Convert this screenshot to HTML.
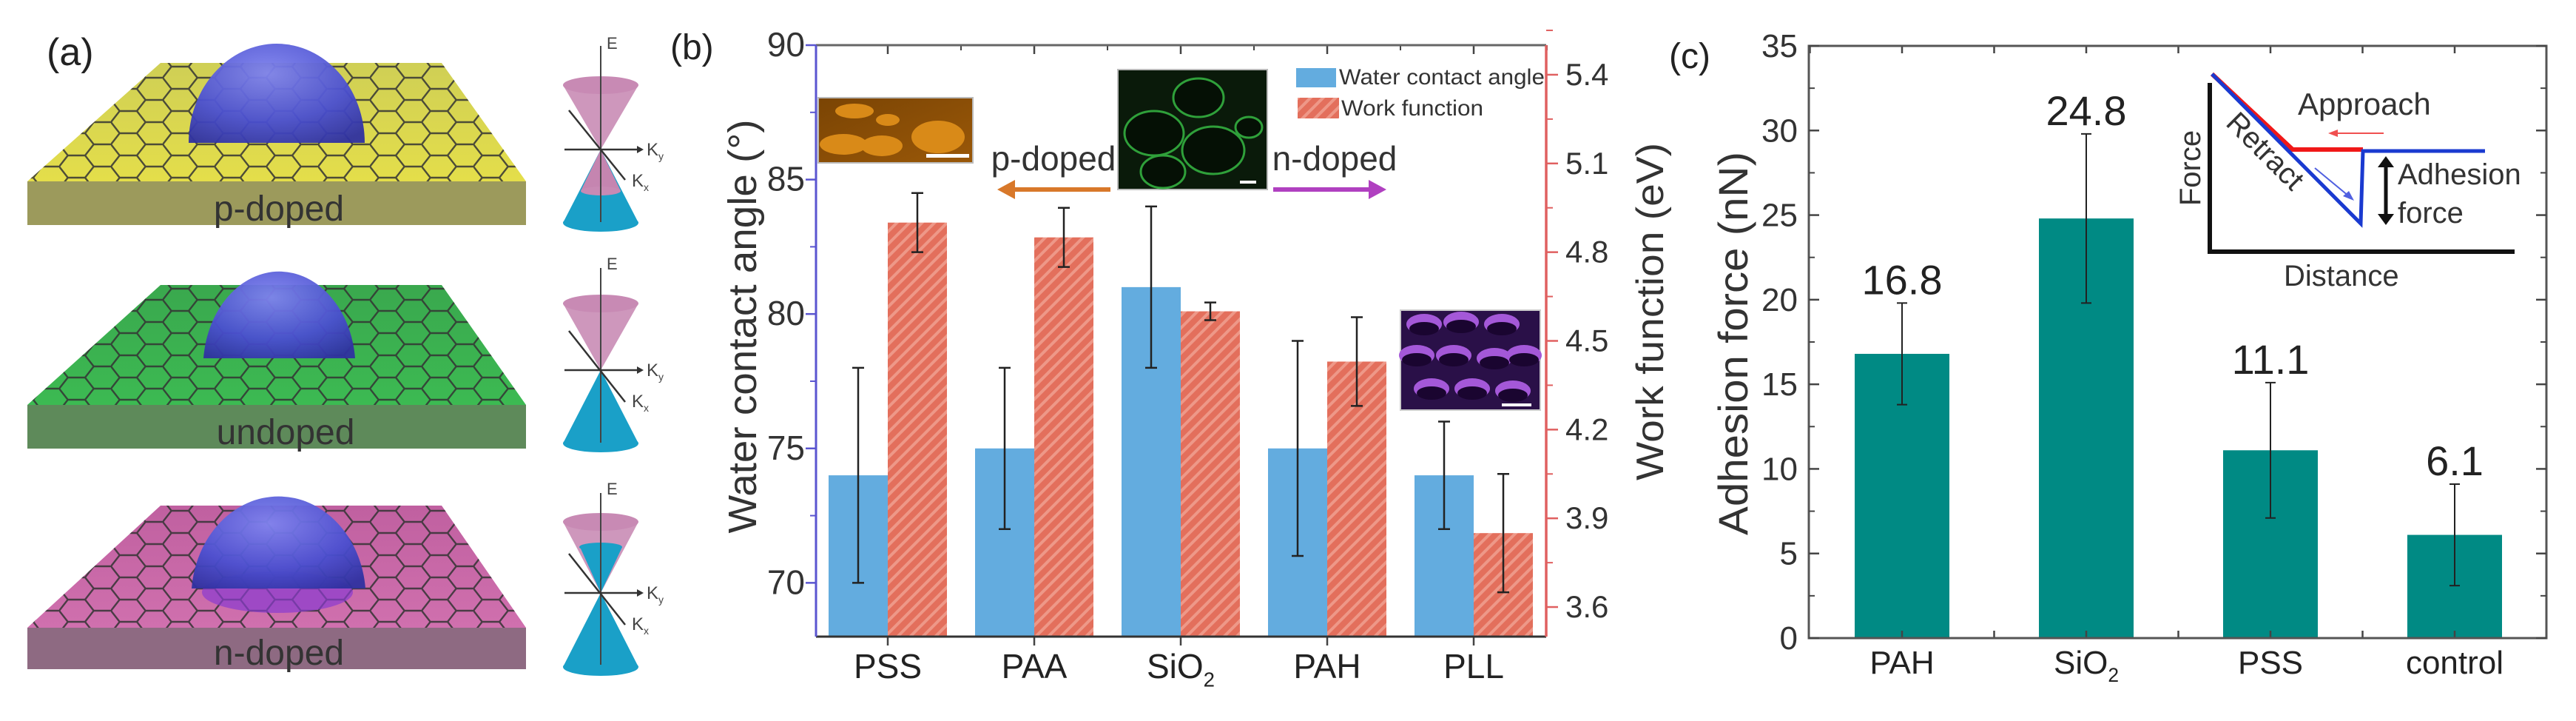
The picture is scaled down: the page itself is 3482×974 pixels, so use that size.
<!DOCTYPE html>
<html><head><meta charset="utf-8">
<style>
html,body{margin:0;padding:0;background:#fff;overflow:hidden;}
svg{display:block;font-family:"Liberation Sans",Arial,sans-serif;}
</style></head>
<body>
<svg id="fig" width="3482" height="974" viewBox="0 0 3482 974" xmlns="http://www.w3.org/2000/svg">
<defs>
  <pattern id="hex" width="70" height="30" patternUnits="userSpaceOnUse" patternTransform="translate(10,0)">
    <path d="M0,15 L11.7,0 L35,0 L46.7,15 L35,30 L11.7,30 Z M46.7,15 L70,15" fill="none" stroke="#333" stroke-width="2.4"/>
  </pattern>
  <pattern id="hatch" width="12" height="12" patternUnits="userSpaceOnUse" patternTransform="rotate(45)">
    <rect width="12" height="12" fill="#e36f5c"/>
    <rect width="4" height="12" fill="#ee9888"/>
  </pattern>
  <radialGradient id="dome" cx="0.45" cy="0.3" r="0.8">
    <stop offset="0" stop-color="#7f83ee"/><stop offset="0.6" stop-color="#4a4fd0"/><stop offset="1" stop-color="#2f31a0"/>
  </radialGradient>
  <linearGradient id="yel" x1="0" y1="0" x2="0" y2="1"><stop offset="0" stop-color="#cfcf55"/><stop offset="1" stop-color="#e4de4a"/></linearGradient>
  <linearGradient id="grn" x1="0" y1="0" x2="0" y2="1"><stop offset="0" stop-color="#3aa84e"/><stop offset="1" stop-color="#3cba52"/></linearGradient>
  <linearGradient id="pnk" x1="0" y1="0" x2="0" y2="1"><stop offset="0" stop-color="#c060a0"/><stop offset="1" stop-color="#d070ae"/></linearGradient>
  <linearGradient id="orgimg" x1="0" y1="0" x2="1" y2="1"><stop offset="0" stop-color="#7a4404"/><stop offset="1" stop-color="#9a5808"/></linearGradient>
</defs>

<g>
  <text x="63" y="88" font-size="52" fill="#222">(a)</text>

  <g>
    <polygon points="37,245 711,245 711,304 37,304" fill="#9c9a5c"/>
    <polygon points="217,85 597,85 711,245 37,245" fill="url(#yel)"/>
    <polygon points="217,85 597,85 711,245 37,245" fill="url(#hex)" opacity="0.85"/>
    <path d="M255,193 A119,134 0 0 1 493,193 Z" fill="url(#dome)" opacity="0.95"/>
    <text x="377" y="298" font-size="48" text-anchor="middle" fill="#333">p-doped</text>
  </g>
  <g>
    <polygon points="37,547 711,547 711,606 37,606" fill="#5e8a5a"/>
    <polygon points="217,385 597,385 711,547 37,547" fill="url(#grn)"/>
    <polygon points="217,385 597,385 711,547 37,547" fill="url(#hex)" opacity="0.85"/>
    <path d="M275,484 A103,130 0 0 1 480,484 Z" fill="url(#dome)" opacity="0.95"/>
    <text x="386" y="600" font-size="48" text-anchor="middle" fill="#333">undoped</text>
  </g>
  <g>
    <polygon points="37,848 711,848 711,904 37,904" fill="#8e6a82"/>
    <polygon points="217,683 597,683 711,848 37,848" fill="url(#pnk)"/>
    <polygon points="217,683 597,683 711,848 37,848" fill="url(#hex)" opacity="0.85"/>
    <ellipse cx="375" cy="800" rx="102" ry="28" fill="#8a3ad0" opacity="0.7"/>
    <path d="M259,795 A118,137 0 0 1 494,795 Z" fill="url(#dome)" opacity="0.95"/>
    <text x="377" y="898" font-size="48" text-anchor="middle" fill="#333">n-doped</text>
  </g>

  <g>
    <polygon points="761,115 863,115 812,202" fill="#c585b0" opacity="0.85"/>
    <ellipse cx="812" cy="115" rx="51" ry="12" fill="#c88ab4"/>
    <polygon points="812,202 761,301 863,301" fill="#1aa0c8"/>
    <ellipse cx="812" cy="301" rx="51" ry="12" fill="#1aa0c8"/>
    <polygon points="812,202 785,258 839,258" fill="#c585b0"/>
    <ellipse cx="812" cy="258" rx="27" ry="6" fill="#c88ab4"/>
    <line x1="812" y1="62" x2="812" y2="300" stroke="#444" stroke-width="2"/>
    <line x1="763" y1="202" x2="861" y2="202" stroke="#333" stroke-width="2.5"/>
    <polygon points="861,197 870,202 861,207" fill="#333"/>
    <line x1="769" y1="149" x2="845" y2="243" stroke="#333" stroke-width="2.5"/>
    <text x="820" y="66" font-size="22" fill="#444">E</text>
    <text x="874" y="210" font-size="24" fill="#444">K<tspan font-size="14" dy="6">y</tspan></text>
    <text x="854" y="252" font-size="24" fill="#444">K<tspan font-size="14" dy="6">x</tspan></text>
  </g>
  <g>
    <polygon points="761,410 863,410 812,500" fill="#c585b0" opacity="0.85"/>
    <ellipse cx="812" cy="410" rx="51" ry="12" fill="#c88ab4"/>
    <polygon points="812,500 761,599 863,599" fill="#1aa0c8"/>
    <ellipse cx="812" cy="599" rx="51" ry="12" fill="#1aa0c8"/>
    <line x1="812" y1="362" x2="812" y2="598" stroke="#444" stroke-width="2"/>
    <line x1="763" y1="500" x2="861" y2="500" stroke="#333" stroke-width="2.5"/>
    <polygon points="861,495 870,500 861,505" fill="#333"/>
    <line x1="769" y1="447" x2="845" y2="543" stroke="#333" stroke-width="2.5"/>
    <text x="820" y="364" font-size="22" fill="#444">E</text>
    <text x="874" y="508" font-size="24" fill="#444">K<tspan font-size="14" dy="6">y</tspan></text>
    <text x="854" y="550" font-size="24" fill="#444">K<tspan font-size="14" dy="6">x</tspan></text>
  </g>
  <g>
    <polygon points="761,705 863,705 812,801" fill="#c585b0" opacity="0.85"/>
    <ellipse cx="812" cy="705" rx="51" ry="12" fill="#c88ab4"/>
    <polygon points="812,801 784,739 841,739" fill="#1aa0c8"/>
    <ellipse cx="812" cy="739" rx="29" ry="6" fill="#1aa0c8"/>
    <polygon points="812,801 761,901 863,901" fill="#1aa0c8"/>
    <ellipse cx="812" cy="901" rx="51" ry="12" fill="#1aa0c8"/>
    <line x1="812" y1="666" x2="812" y2="898" stroke="#444" stroke-width="2"/>
    <line x1="763" y1="801" x2="861" y2="801" stroke="#333" stroke-width="2.5"/>
    <polygon points="861,796 870,801 861,806" fill="#333"/>
    <line x1="769" y1="748" x2="845" y2="844" stroke="#333" stroke-width="2.5"/>
    <text x="820" y="668" font-size="22" fill="#444">E</text>
    <text x="874" y="809" font-size="24" fill="#444">K<tspan font-size="14" dy="6">y</tspan></text>
    <text x="854" y="851" font-size="24" fill="#444">K<tspan font-size="14" dy="6">x</tspan></text>
  </g>
</g>

<g id="panelB">
  <text x="906" y="80" font-size="48" fill="#222">(b)</text>
</g>

<g id="panelC">
  <text x="2256" y="92" font-size="48" fill="#222">(c)</text>
</g>
</svg>

<script>
// ---------- Panel B data ----------
var bCategories = ["PSS", "PAA", "SiO2", "PAH", "PLL"];
var bAngle = [74, 75, 81, 75, 74];
var bAngleErr = [4, 3, 3, 4, 2];
var bWork = [4.9, 4.85, 4.6, 4.43, 3.85];
var bWorkErr = [0.1, 0.1, 0.03, 0.15, 0.2];
var bLeftTicks = [70, 75, 80, 85, 90];
var bRightTicks = ["3.6", "3.9", "4.2", "4.5", "4.8", "5.1", "5.4"];

// ---------- Panel C data ----------
var cCategories = ["PAH", "SiO2", "PSS", "control"];
var cForce = [16.8, 24.8, 11.1, 6.1];
var cForceErr = [3, 5, 4, 3];
var cForceLabels = ["16.8", "24.8", "11.1", "6.1"];
var cTicks = [0, 5, 10, 15, 20, 25, 30, 35];

var NS = "http://www.w3.org/2000/svg";
function mk(parent, tag, attrs, text) {
  var e = document.createElementNS(NS, tag);
  for (var k in attrs) e.setAttribute(k, attrs[k]);
  if (text !== undefined) e.textContent = text;
  parent.appendChild(e);
  return e;
}
function catLabel(parent, x, y, name, fs) {
  var t = mk(parent, "text", {x: x, y: y, "font-size": fs, "text-anchor": "middle", fill: "#222"});
  
  
  if (name === "SiO2") {
    var a = document.createElementNS(NS, "tspan"); a.textContent = "SiO"; t.appendChild(a);
    var b = document.createElementNS(NS, "tspan"); b.textContent = "2";
    b.setAttribute("font-size", fs * 0.6); b.setAttribute("dy", fs * 0.25); t.appendChild(b);
  } else t.textContent = name;
  return t;
}

// ===== Panel B =====
(function () {
  var g = document.getElementById("panelB");
  var L = 1103, R = 2090, T = 61, B = 860;
  function yL(v) { return B - (v - 68) / 22 * (B - T); }
  function yR(v) { return B - (v - 3.5) / 2 * (B - T); }
  function xC(i) { return 1200 + 198 * i; }
  var bw = 80;

  var ins = mk(g, "g", {});
  
  
  mk(ins, "rect", {x: 1106, y: 132, width: 209, height: 88, fill: "url(#orgimg)", stroke: "#bbb", "stroke-width": 2});
  [[1155,150,26,10],[1200,162,16,8],[1140,195,32,14],[1192,197,28,14],[1268,185,36,22]].forEach(function (c) {
    mk(ins, "ellipse", {cx: c[0], cy: c[1], rx: c[2], ry: c[3], fill: "#d98a18"});
  });
  mk(ins, "rect", {x: 1252, y: 208, width: 58, height: 5, fill: "#fff"});
  mk(ins, "rect", {x: 1511, y: 94, width: 202, height: 162, fill: "#0a1a0a", stroke: "#bbb", "stroke-width": 2});
  [[1620,132,34,26],[1560,180,40,30],[1640,203,42,32],[1688,172,18,14],[1572,232,30,22]].forEach(function (c) {
    mk(ins, "ellipse", {cx: c[0], cy: c[1], rx: c[2], ry: c[3], fill: "#051005", stroke: "#2fa03a", "stroke-width": 3});
  });
  mk(ins, "rect", {x: 1676, y: 244, width: 22, height: 4, fill: "#fff"});
  mk(ins, "rect", {x: 1893, y: 419, width: 189, height: 135, fill: "#2a1048", stroke: "#ccc", "stroke-width": 2});
  [[1925,438],[1975,435],[2030,438],[1915,480],[1965,480],[2020,484],[2060,480],[1935,525],[1990,525],[2045,528]].forEach(function (c) {
    mk(ins, "ellipse", {cx: c[0], cy: c[1], rx: 24, ry: 14, fill: "#a458d8"});
    mk(ins, "ellipse", {cx: c[0], cy: c[1] + 6, rx: 20, ry: 9, fill: "#1a0530"});
  });
  mk(ins, "rect", {x: 2030, y: 545, width: 40, height: 4, fill: "#fff"});

  mk(g, "text", {x: 1424, y: 230, "font-size": 46, "text-anchor": "middle", fill: "#333"}, "p-doped");
  mk(g, "text", {x: 1804, y: 230, "font-size": 46, "text-anchor": "middle", fill: "#333"}, "n-doped");
  mk(g, "line", {x1: 1501, y1: 256, x2: 1365, y2: 256, stroke: "#d8782a", "stroke-width": 6});
  mk(g, "polygon", {points: "1348,256 1372,243 1372,269", fill: "#d8782a"});
  mk(g, "line", {x1: 1721, y1: 256, x2: 1857, y2: 256, stroke: "#b040c0", "stroke-width": 6});
  mk(g, "polygon", {points: "1874,256 1850,243 1850,269", fill: "#b040c0"});

  for (var i = 0; i < bCategories.length; i++) {
    var xc = xC(i);
    var yb = yL(bAngle[i]);
    var r1 = mk(g, "rect", {x: xc - bw, y: yb, width: bw, height: B - yb, fill: "#63acdf"});
    
    
    var yr = yR(bWork[i]);
    var r2 = mk(g, "rect", {x: xc, y: yr, width: bw, height: B - yr, fill: "url(#hatch)"});
    
    
    var ex = xc - bw / 2;
    var e1 = mk(g, "path", {d: "M" + ex + "," + yL(bAngle[i] + bAngleErr[i]) + "V" + yL(bAngle[i] - bAngleErr[i]) +
      "M" + (ex - 8) + "," + yL(bAngle[i] + bAngleErr[i]) + "h16M" + (ex - 8) + "," + yL(bAngle[i] - bAngleErr[i]) + "h16",
      stroke: "#222", "stroke-width": 2.5, fill: "none"});
    
    
    var ex2 = xc + bw / 2;
    var e2 = mk(g, "path", {d: "M" + ex2 + "," + yR(bWork[i] + bWorkErr[i]) + "V" + yR(bWork[i] - bWorkErr[i]) +
      "M" + (ex2 - 8) + "," + yR(bWork[i] + bWorkErr[i]) + "h16M" + (ex2 - 8) + "," + yR(bWork[i] - bWorkErr[i]) + "h16",
      stroke: "#222", "stroke-width": 2.5, fill: "none"});
    
    
    catLabel(g, xc, 916, bCategories[i], 46);
    mk(g, "line", {x1: xc, y1: B, x2: xc, y2: B + 12, stroke: "#444", "stroke-width": 2.5});
    mk(g, "line", {x1: xc, y1: T, x2: xc, y2: T + 12, stroke: "#444", "stroke-width": 2.5});
    mk(g, "line", {x1: xc + 99, y1: T, x2: xc + 99, y2: T + 7, stroke: "#444", "stroke-width": 2});
  }

  mk(g, "line", {x1: L, y1: T, x2: R, y2: T, stroke: "#666", "stroke-width": 3});
  mk(g, "line", {x1: L, y1: B, x2: R, y2: B, stroke: "#333", "stroke-width": 3});
  var la = mk(g, "line", {x1: L, y1: T, x2: L, y2: B, stroke: "#5a55d0", "stroke-width": 3});
  
  
  var ra = mk(g, "line", {x1: R, y1: T, x2: R, y2: B, stroke: "#e06060", "stroke-width": 3.5});
  
  

  for (var j = 0; j < bLeftTicks.length; j++) {
    var v = bLeftTicks[j], y = yL(v);
    mk(g, "line", {x1: L - 14, y1: y, x2: L, y2: y, stroke: "#5a55d0", "stroke-width": 2.5});
    if (v - 2.5 > 68) mk(g, "line", {x1: L - 8, y1: yL(v - 2.5), x2: L, y2: yL(v - 2.5), stroke: "#5a55d0", "stroke-width": 2});
    var tl = mk(g, "text", {x: 1088, y: y + 15, "font-size": 46, "text-anchor": "end", fill: "#333"}, String(v));
    
    
  }
  for (var k = 0; k < bRightTicks.length; k++) {
    var rv = parseFloat(bRightTicks[k]), ry = yR(rv);
    mk(g, "line", {x1: R, y1: ry, x2: R + 16, y2: ry, stroke: "#e06060", "stroke-width": 2.5});
    mk(g, "line", {x1: R, y1: yR(rv + 0.15), x2: R + 9, y2: yR(rv + 0.15), stroke: "#e06060", "stroke-width": 2});
    var rl = mk(g, "text", {x: 2116, y: ry + 14, "font-size": 42, fill: "#333"}, bRightTicks[k]);
    
    
  }

  var yt = mk(g, "text", {x: 0, y: 0, "font-size": 54, "text-anchor": "middle", fill: "#333",
    transform: "translate(1022,441) rotate(-90)", textLength: 559, lengthAdjust: "spacingAndGlyphs"}, "Water contact angle (°)");
  
  
  var yt2 = mk(g, "text", {x: 0, y: 0, "font-size": 52, "text-anchor": "middle", fill: "#333",
    transform: "translate(2248,421) rotate(-90)", textLength: 456, lengthAdjust: "spacingAndGlyphs"}, "Work function (eV)");
  
  

  var lg = mk(g, "g", {});
  
  
  mk(lg, "rect", {x: 1752, y: 92, width: 54, height: 26, fill: "#63acdf"});
  mk(lg, "text", {x: 1810, y: 114, "font-size": 30, fill: "#333", textLength: 278, lengthAdjust: "spacingAndGlyphs"}, "Water contact angle");
  mk(lg, "rect", {x: 1754, y: 132, width: 56, height: 28, fill: "url(#hatch)"});
  mk(lg, "text", {x: 1813, y: 156, "font-size": 30, fill: "#333", textLength: 192, lengthAdjust: "spacingAndGlyphs"}, "Work function");
})();

// ===== Panel C =====
(function () {
  var g = document.getElementById("panelC");
  var L = 2445, R = 3442, T = 62, B = 862;
  function y(v) { return B - v / 35 * (B - T); }
  function xC(i) { return 2571 + 249 * i; }
  var bw = 128;

  for (var i = 0; i < cCategories.length; i++) {
    var xc = xC(i), yb = y(cForce[i]);
    var r = mk(g, "rect", {x: xc - bw / 2, y: yb, width: bw, height: B - yb, fill: "#008a84"});
    
    
    var hi = y(cForce[i] + cForceErr[i]), lo = y(cForce[i] - cForceErr[i]);
    var e = mk(g, "path", {d: "M" + xc + "," + hi + "V" + lo + "M" + (xc - 7) + "," + hi + "h14M" + (xc - 7) + "," + lo + "h14",
      stroke: "#222", "stroke-width": 2, fill: "none"});
    
    
    var vl = mk(g, "text", {x: xc, y: hi - 12, "font-size": 56, "text-anchor": "middle", fill: "#222"}, cForceLabels[i]);
    
    
    catLabel(g, xc, 910, cCategories[i], 44);
    [xc, xc + 124.5].forEach(function (tx) {
      if (tx < R) {
        mk(g, "line", {x1: tx, y1: B, x2: tx, y2: B - 10, stroke: "#444", "stroke-width": 2.5});
        mk(g, "line", {x1: tx, y1: T, x2: tx, y2: T + 10, stroke: "#444", "stroke-width": 2.5});
      }
    });
  }
  mk(g, "line", {x1: xC(0) - 124.5, y1: T, x2: xC(0) - 124.5, y2: T + 10, stroke: "#444", "stroke-width": 2.5});
  mk(g, "rect", {x: L, y: T, width: R - L, height: B - T, fill: "none", stroke: "#555", "stroke-width": 3});

  for (var j = 0; j < cTicks.length; j++) {
    var v = cTicks[j], ty = y(v);
    mk(g, "line", {x1: L, y1: ty, x2: L + 14, y2: ty, stroke: "#444", "stroke-width": 2.5});
    mk(g, "line", {x1: R, y1: ty, x2: R - 14, y2: ty, stroke: "#444", "stroke-width": 2.5});
    if (v < 35) {
      mk(g, "line", {x1: L, y1: y(v + 2.5), x2: L + 8, y2: y(v + 2.5), stroke: "#444", "stroke-width": 2});
      mk(g, "line", {x1: R, y1: y(v + 2.5), x2: R - 8, y2: y(v + 2.5), stroke: "#444", "stroke-width": 2});
    }
    var tl = mk(g, "text", {x: 2430, y: ty + 15, "font-size": 44, "text-anchor": "end", fill: "#333"}, String(v));
    
    
  }
  var yt = mk(g, "text", {x: 0, y: 0, "font-size": 56, "text-anchor": "middle", fill: "#333",
    transform: "translate(2362,464) rotate(-90)", textLength: 518, lengthAdjust: "spacingAndGlyphs"}, "Adhesion force (nN)");
  
  

  var ins = mk(g, "g", {});
  
  
  mk(ins, "path", {d: "M2987,112 V340 H3399", stroke: "#111", "stroke-width": 6, fill: "none"});
  mk(ins, "path", {d: "M2990,100 L3099,202 L3194,202", stroke: "#f01818", "stroke-width": 6, fill: "none"});
  mk(ins, "path", {d: "M2990,100 L3191,302 L3194,204 L3359,204", stroke: "#1a3ad0", "stroke-width": 5, fill: "none"});
  mk(ins, "line", {x1: 3222, y1: 180, x2: 3155, y2: 180, stroke: "#f05050", "stroke-width": 2});
  mk(ins, "polygon", {points: "3147,180 3160,175 3160,185", fill: "#f05050"});
  mk(ins, "line", {x1: 3129, y1: 227, x2: 3175, y2: 265, stroke: "#5060e0", "stroke-width": 2});
  mk(ins, "polygon", {points: "3182,271 3167,265 3175,258", fill: "#5060e0"});
  mk(ins, "line", {x1: 3225, y1: 222, x2: 3225, y2: 293, stroke: "#111", "stroke-width": 5});
  mk(ins, "polygon", {points: "3225,211 3214,226 3236,226", fill: "#111"});
  mk(ins, "polygon", {points: "3225,304 3214,289 3236,289", fill: "#111"});
  mk(ins, "text", {x: 3106, y: 155, "font-size": 42, fill: "#333"}, "Approach");
  mk(ins, "text", {x: 0, y: 0, "font-size": 40, fill: "#333", transform: "translate(3007,168) rotate(45)"}, "Retract");
  mk(ins, "text", {x: 0, y: 0, "font-size": 40, fill: "#333", "text-anchor": "middle", transform: "translate(2974,227) rotate(-90)"}, "Force");
  mk(ins, "text", {x: 3241, y: 249, "font-size": 40, fill: "#333"}, "Adhesion");
  mk(ins, "text", {x: 3241, y: 301, "font-size": 40, fill: "#333"}, "force");
  mk(ins, "text", {x: 3087, y: 386, "font-size": 40, fill: "#333"}, "Distance");
})();
</script>
</body></html>
